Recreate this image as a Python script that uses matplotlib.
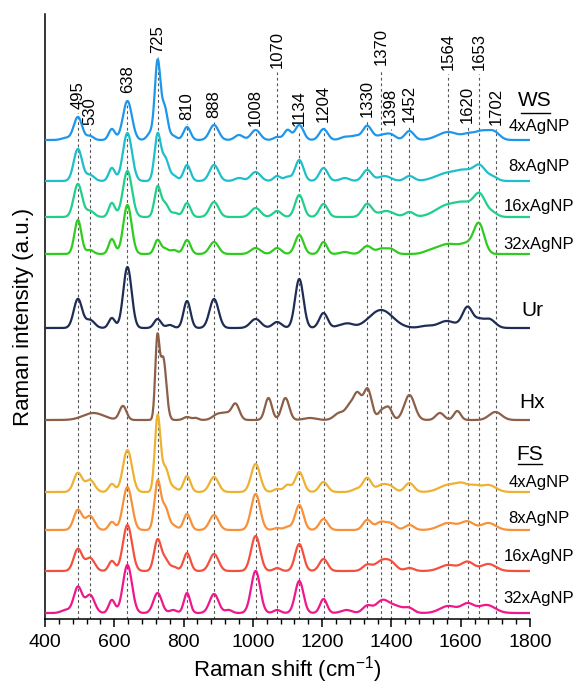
import matplotlib
matplotlib.use("Agg")
import matplotlib.pyplot as plt
import numpy as np
from matplotlib.ticker import MultipleLocator

plt.rcParams['font.family'] = 'Liberation Sans'
plt.rcParams['mathtext.fontset'] = 'custom'
plt.rcParams['mathtext.rm'] = 'Liberation Sans'

# peak lists: (centre cm-1, height, width)
ws4 = [(460, 2, 13), (495, 23, 12), (530, 4, 10), (593, 11, 9), (638, 39, 13),
       (705, 7, 10), (725, 77, 8), (745, 32, 9), (770, 4, 10), (810, 13, 10),
       (888, 15, 13), (960, 5, 12), (1008, 10, 13), (1070, 3, 10), (1100, 10, 10),
       (1134, 15, 12), (1204, 11, 12), (1265, 3, 13), (1295, 4, 13), (1330, 14, 13),
       (1375, 5, 18), (1400, 4, 13), (1452, 9, 13), (1564, 8, 30), (1620, 4, 15),
       (1660, 9, 22), (1697, 7, 16)]
ws8 = [(495, 32, 12), (530, 6, 12), (593, 13, 9), (638, 48, 13), (725, 46, 9),
       (747, 22, 10), (772, 5, 10), (810, 16, 10), (888, 16, 13), (960, 3, 12),
       (1008, 9, 14), (1070, 5, 10), (1100, 4, 10), (1134, 21, 12), (1204, 13, 12),
       (1265, 3, 13), (1330, 11, 13), (1380, 5, 18), (1452, 5, 13), (1564, 8, 35),
       (1615, 8, 24), (1655, 14, 17), (1692, 4, 14)]
ws16 = [(495, 33, 12), (530, 6, 12), (593, 14, 9), (638, 46, 13), (725, 30, 9),
        (747, 13, 10), (775, 4, 10), (810, 14, 10), (888, 15, 13), (1008, 9, 14),
        (1070, 6, 12), (1134, 22, 12), (1204, 13, 12), (1330, 13, 14), (1385, 6, 22),
        (1452, 5, 13), (1564, 12, 35), (1615, 10, 24), (1655, 21, 17), (1692, 4, 14)]
ws32 = [(495, 34, 10), (530, 4, 10), (593, 15, 9), (638, 49, 12), (725, 14, 9),
        (747, 5, 9), (772, 4, 10), (810, 14, 10), (888, 12, 13), (1008, 6, 14),
        (1070, 6, 12), (1134, 19, 12), (1204, 12, 10), (1265, 2, 13), (1330, 8, 14),
        (1370, 5, 13), (1398, 5, 13), (1510, 2, 18), (1564, 10, 32), (1620, 8, 20),
        (1653, 29, 15)]
ur = [(495, 29, 12), (530, 8, 13), (593, 10, 9), (638, 61, 12), (725, 9, 10),
      (760, 3, 10), (810, 27, 10), (888, 29, 13), (1008, 9, 15), (1070, 6, 13),
      (1134, 49, 12), (1204, 15, 12), (1250, 2, 13), (1275, 4, 15), (1370, 18, 34),
      (1500, 2, 18), (1560, 7, 24), (1620, 21, 15), (1653, 6, 12), (1682, 9, 17)]
hx = [(540, 7, 30), (625, 14, 10), (724, 75, 6), (741, 62, 9), (810, 3, 10),
      (835, 2, 8), (900, 6, 15), (925, 5, 12), (950, 16, 11), (1045, 22, 10),
      (1094, 22, 11), (1165, 2, 18), (1250, 7, 15), (1280, 13, 12), (1302, 24, 11),
      (1331, 31, 12), (1372, 9, 10), (1392, 12, 10), (1452, 25, 15), (1540, 7, 12),
      (1590, 9, 10), (1700, 8, 18)]
fs4 = [(495, 19, 12), (530, 12, 13), (593, 8, 9), (638, 42, 13), (725, 75, 8),
       (747, 24, 10), (772, 4, 10), (810, 16, 10), (888, 15, 13), (1008, 28, 13),
       (1070, 3, 10), (1100, 7, 10), (1134, 20, 12), (1204, 10, 12), (1300, 3, 13),
       (1330, 14, 12), (1372, 7, 15), (1398, 5, 13), (1452, 9, 13), (1564, 7, 26),
       (1605, 7, 18), (1640, 5, 15), (1680, 7, 21)]
fs8 = [(495, 20, 12), (530, 14, 13), (593, 8, 9), (638, 43, 13), (725, 48, 9),
       (747, 22, 10), (772, 4, 10), (810, 16, 10), (888, 15, 13), (1008, 36, 13),
       (1070, 2, 10), (1100, 3, 10), (1134, 25, 12), (1204, 11, 12), (1330, 10, 12),
       (1370, 8, 15), (1400, 6, 13), (1452, 5, 13), (1564, 7, 26), (1620, 8, 18),
       (1680, 7, 21)]
fs16 = [(495, 22, 12), (530, 13, 13), (593, 10, 9), (638, 46, 13), (725, 31, 10),
        (747, 11, 10), (772, 4, 10), (810, 18, 10), (888, 17, 13), (1008, 35, 13),
        (1070, 3, 10), (1134, 27, 12), (1204, 12, 12), (1330, 6, 13), (1372, 10, 18),
        (1400, 7, 15), (1452, 3, 13), (1564, 6, 24), (1620, 9, 18), (1680, 7, 21)]
fs32 = [(460, 3, 13), (495, 26, 12), (530, 18, 13), (593, 13, 9), (638, 48, 13),
        (725, 20, 12), (770, 3, 10), (810, 20, 9), (888, 19, 13), (930, 3, 10),
        (1008, 42, 13), (1070, 3, 10), (1134, 32, 12), (1204, 14, 10), (1270, 3, 15),
        (1330, 7, 13), (1372, 11, 18), (1410, 7, 24), (1452, 4, 13), (1564, 7, 24),
        (1620, 9, 18), (1675, 8, 24)]

spectra = [ws4, ws8, ws16, ws32, ur, hx, fs4, fs8, fs16, fs32]
offsets = [479, 438, 402, 365, 291, 199, 127, 89, 48, 6]
colors = ['#1E96EB', '#1DBFCB', '#1FCF8C', '#2ECC1E', '#1F2D55',
          '#8C5F47', '#EDB232', '#F7913A', '#F5503F', '#F0168C']
names = ['4xAgNP', '8xAgNP', '16xAgNP', '32xAgNP', 'Ur', 'Hx',
         '4xAgNP', '8xAgNP', '16xAgNP', '32xAgNP']
name_y = [493, 452, 412, 374, 309, 216, 137, 101, 62, 21]
name_size = [12, 12, 12, 12, 15, 15, 12, 12, 12, 12]

peak_pos = [495, 530, 638, 725, 810, 888, 1008, 1070, 1134, 1204,
            1330, 1370, 1398, 1452, 1564, 1620, 1653, 1702]
peak_lab_y = [510, 494, 526, 566, 499, 501, 493, 551, 493, 497,
              502, 554, 494, 497, 549, 496, 549, 494]

x = np.arange(400, 1801, 1.0)

fig = plt.figure(figsize=(5.77, 6.87), dpi=100)
ax = fig.add_axes([45/577, 68/687, 485/577, 605/687])

for p, yl in zip(peak_pos, peak_lab_y):
    ax.vlines(p, 0, yl - 4, colors='#555555', linestyles=(0, (2.5, 2.5)), lw=0.8, zorder=1)
    ax.text(p, yl, str(p), rotation=90, ha='center', va='bottom', fontsize=12)

for pk, off, c in zip(spectra, offsets, colors):
    y = np.full_like(x, off)
    for cen, h, w in pk:
        y += h * np.exp(-0.5 * ((x - cen) / w) ** 2)
    ax.plot(x, y, color=c, lw=1.6, zorder=3)

for n, yy, s in zip(names, name_y, name_size):
    ax.text(1826 if s == 12 else 1806, yy, n, ha='center', va='center', fontsize=s, clip_on=False)

ax.text(1815, 518, 'WS', ha='center', va='center', fontsize=15)
ax.plot([1773, 1858], [506, 506], color='k', lw=1.0, clip_on=False)
ax.text(1800, 164, 'FS', ha='center', va='center', fontsize=15)
ax.plot([1765, 1836], [155, 155], color='k', lw=1.0, clip_on=False)

ax.set_xlim(400, 1800)
ax.set_ylim(0, 605)
ax.spines['top'].set_visible(False)
ax.spines['right'].set_visible(False)
ax.spines['left'].set_linewidth(1.1)
ax.spines['bottom'].set_linewidth(1.1)
ax.set_yticks([])
ax.xaxis.set_major_locator(MultipleLocator(200))
ax.xaxis.set_minor_locator(MultipleLocator(40))
ax.tick_params(axis='x', which='major', length=6, width=1.1, labelsize=14, pad=5)
ax.tick_params(axis='x', which='minor', length=3.5, width=1.0)
ax.set_xlabel('Raman shift (cm$^{-1}$)', fontsize=16, labelpad=2)
ax.set_ylabel('Raman intensity (a.u.)', fontsize=16, labelpad=8)

fig.savefig('out.png', dpi=100)
